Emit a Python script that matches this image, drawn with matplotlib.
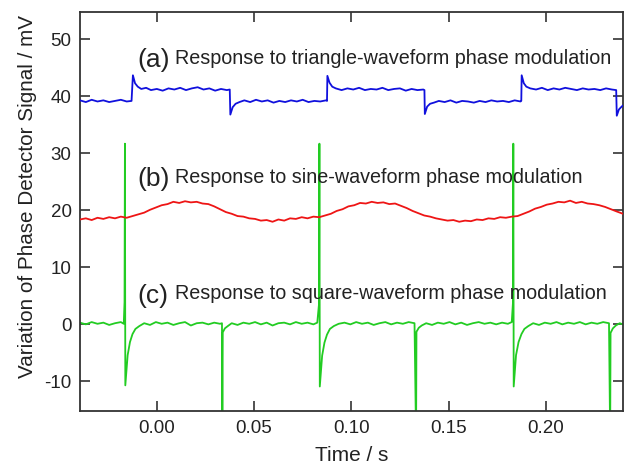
import matplotlib
matplotlib.use("Agg")
import matplotlib.pyplot as plt

plt.rcParams['font.family'] = ['Liberation Sans', 'DejaVu Sans']
plt.rcParams['axes.unicode_minus'] = False

# ---- data ----
blue_t = [-0.0395, -0.0365, -0.0335, -0.0305, -0.0275, -0.0245, -0.0215, -0.0185, -0.0155, -0.0130,
          -0.0123, -0.0112, -0.0098, -0.0080, -0.0055, -0.0030, 0.0000, 0.0030, 0.0060, 0.0090,
          0.0120, 0.0150, 0.0180, 0.0210, 0.0240, 0.0270, 0.0300, 0.0330, 0.0360, 0.0375,
          0.0378, 0.0390, 0.0405, 0.0425, 0.0450, 0.0480, 0.0510, 0.0540, 0.0570, 0.0600,
          0.0630, 0.0660, 0.0690, 0.0720, 0.0750, 0.0780, 0.0810, 0.0840, 0.0870, 0.0875,
          0.0877, 0.0888, 0.0902, 0.0920, 0.0950, 0.0980, 0.1010, 0.1040, 0.1070, 0.1100,
          0.1130, 0.1160, 0.1190, 0.1220, 0.1250, 0.1280, 0.1310, 0.1340, 0.1370, 0.1376,
          0.1378, 0.1390, 0.1405, 0.1425, 0.1450, 0.1480, 0.1510, 0.1540, 0.1570, 0.1600,
          0.1630, 0.1660, 0.1690, 0.1720, 0.1750, 0.1780, 0.1810, 0.1840, 0.1870, 0.1874,
          0.1876, 0.1887, 0.1900, 0.1920, 0.1950, 0.1980, 0.2010, 0.2040, 0.2070, 0.2100,
          0.2130, 0.2160, 0.2190, 0.2220, 0.2250, 0.2280, 0.2310, 0.2340, 0.2362, 0.2365,
          0.2376, 0.2390, 0.2397]
blue_v = [39.2, 38.9, 39.3, 39.0, 39.2, 38.9, 39.1, 39.3, 39.0, 39.1,
          43.6, 42.2, 41.6, 41.2, 41.4, 41.0, 41.2, 40.9, 41.3, 41.1,
          41.4, 41.0, 41.3, 41.5, 41.1, 41.3, 40.9, 41.2, 41.0, 41.1,
          36.7, 38.0, 38.6, 38.9, 39.2, 38.9, 39.3, 39.0, 39.2, 38.8,
          39.1, 38.9, 39.2, 39.0, 39.3, 38.9, 39.1, 39.0, 39.2, 39.1,
          43.5, 42.3, 41.6, 41.3, 41.0, 41.3, 41.1, 41.4, 41.0, 41.2,
          41.1, 41.4, 41.0, 41.2, 41.3, 40.9, 41.2, 41.0, 41.1, 41.0,
          36.8, 38.1, 38.6, 38.8, 39.1, 38.9, 39.2, 38.8, 39.1, 39.0,
          38.8, 39.1, 38.9, 39.2, 39.0, 39.1, 38.9, 39.2, 39.0, 39.1,
          43.6, 42.2, 41.6, 41.3, 41.1, 41.4, 41.0, 41.3, 41.1, 41.4,
          41.2, 41.0, 41.3, 41.1, 41.2, 41.0, 41.3, 41.1, 41.0, 36.5,
          37.6, 38.1, 38.3]

red_t = [-0.0395, -0.0365, -0.0335, -0.0305, -0.0275, -0.0245, -0.0215, -0.0185, -0.0155, -0.0125,
         -0.0095, -0.0065, -0.0035, -0.0005, 0.0025, 0.0055, 0.0085, 0.0115, 0.0145, 0.0175,
         0.0205, 0.0235, 0.0265, 0.0295, 0.0325, 0.0355, 0.0385, 0.0415, 0.0445, 0.0475,
         0.0505, 0.0535, 0.0565, 0.0595, 0.0625, 0.0655, 0.0685, 0.0715, 0.0745, 0.0775,
         0.0805, 0.0835, 0.0865, 0.0895, 0.0925, 0.0955, 0.0985, 0.1015, 0.1045, 0.1075,
         0.1105, 0.1135, 0.1165, 0.1195, 0.1225, 0.1255, 0.1285, 0.1315, 0.1345, 0.1375,
         0.1405, 0.1435, 0.1465, 0.1495, 0.1525, 0.1555, 0.1585, 0.1615, 0.1645, 0.1675,
         0.1705, 0.1735, 0.1765, 0.1795, 0.1825, 0.1855, 0.1885, 0.1915, 0.1945, 0.1975,
         0.2005, 0.2035, 0.2065, 0.2095, 0.2125, 0.2155, 0.2185, 0.2215, 0.2245, 0.2275,
         0.2305, 0.2335, 0.2365, 0.2397]
red_v = [18.3, 18.5, 18.2, 18.6, 18.4, 18.7, 18.5, 18.8, 18.6, 18.9,
         19.2, 19.5, 20.0, 20.4, 20.8, 21.0, 21.4, 21.2, 21.5, 21.3,
         21.4, 21.1, 21.0, 20.6, 20.1, 19.6, 19.3, 18.9, 18.8, 18.5,
         18.4, 18.1, 18.2, 17.9, 18.3, 18.1, 18.5, 18.4, 18.7, 18.5,
         18.8, 18.7, 19.0, 19.3, 19.8, 20.1, 20.6, 20.8, 21.2, 21.1,
         21.4, 21.2, 21.3, 21.0, 21.1, 20.7, 20.3, 19.8, 19.4, 19.0,
         18.8, 18.5, 18.3, 18.1, 18.2, 17.9, 18.1, 18.0, 18.3, 18.2,
         18.5, 18.4, 18.7, 18.6, 18.8, 18.9, 19.3, 19.7, 20.2, 20.5,
         20.9, 21.1, 21.4, 21.3, 21.6, 21.2, 21.4, 21.1, 21.0, 20.8,
         20.5, 20.1, 19.7, 19.3]

green_t = [-0.0395, -0.0365, -0.0335, -0.0305, -0.0275, -0.0245, -0.0215, -0.0185, -0.0170, -0.0166,
           -0.0164, -0.0162, -0.0150, -0.0138, -0.0125, -0.0110, -0.0090, -0.0065, -0.0035, -0.0005,
           0.0025, 0.0055, 0.0085, 0.0115, 0.0145, 0.0175, 0.0205, 0.0235, 0.0265, 0.0295,
           0.0325, 0.0335, 0.0337, 0.0339, 0.0350, 0.0365, 0.0385, 0.0415, 0.0445, 0.0475,
           0.0505, 0.0535, 0.0565, 0.0595, 0.0625, 0.0655, 0.0685, 0.0715, 0.0745, 0.0775,
           0.0805, 0.0825, 0.0834, 0.0836, 0.0838, 0.0850, 0.0862, 0.0875, 0.0890, 0.0910,
           0.0935, 0.0965, 0.0995, 0.1025, 0.1055, 0.1085, 0.1115, 0.1145, 0.1175, 0.1205,
           0.1235, 0.1265, 0.1295, 0.1325, 0.1333, 0.1335, 0.1347, 0.1362, 0.1385, 0.1415,
           0.1445, 0.1475, 0.1505, 0.1535, 0.1565, 0.1595, 0.1625, 0.1655, 0.1685, 0.1715,
           0.1745, 0.1775, 0.1805, 0.1825, 0.1831, 0.1833, 0.1835, 0.1847, 0.1860, 0.1875,
           0.1890, 0.1910, 0.1935, 0.1965, 0.1995, 0.2025, 0.2055, 0.2085, 0.2115, 0.2145,
           0.2175, 0.2205, 0.2235, 0.2265, 0.2295, 0.2325, 0.2331, 0.2333, 0.2345, 0.2360,
           0.2380, 0.2397]
green_v = [0.2, -0.1, 0.3, 0.0, 0.2, -0.2, 0.1, 0.3, 0.0, 3.8,
           31.6, -10.8, -5.5, -3.2, -1.8, -0.9, -0.4, 0.1, -0.2, 0.3,
           0.0, 0.2, -0.2, 0.1, 0.3, -0.3, 0.1, 0.2, -0.1, 0.2,
           0.0, 0.1, -20.0, -1.5, -0.8, -0.4, 0.1, -0.2, 0.2, 0.0,
           0.3, -0.1, 0.2, -0.3, 0.1, 0.2, -0.1, 0.3, 0.0, 0.2,
           -0.1, 0.2, 3.5, 31.6, -11.0, -5.6, -3.3, -1.9, -0.9, -0.4,
           0.0, 0.2, -0.1, 0.3, 0.0, 0.2, -0.2, 0.1, 0.3, -0.1,
           0.2, 0.0, 0.3, 0.1, -20.0, -1.4, -0.7, -0.3, 0.1, -0.2,
           0.2, 0.0, 0.3, -0.1, 0.2, -0.2, 0.1, 0.3, 0.0, 0.2,
           -0.1, 0.2, 0.0, 0.3, 3.6, 31.6, -11.0, -5.5, -3.2, -1.8,
           -0.9, -0.4, 0.1, -0.2, 0.2, 0.0, 0.3, -0.1, 0.2, 0.0,
           0.3, -0.1, 0.2, 0.0, 0.3, 0.1, -20.0, -1.6, -0.8, -0.3,
           0.1, -0.1]

x_ticks = [0.00, 0.05, 0.10, 0.15, 0.20]
x_ticklabels = ['0.00', '0.05', '0.10', '0.15', '0.20']
y_ticks = [-10, 0, 10, 20, 30, 40, 50]
panel_tags = ['(a)', '(b)', '(c)']
panel_texts = ['Response to triangle-waveform phase modulation',
               'Response to sine-waveform phase modulation',
               'Response to square-waveform phase modulation']
panel_baselines = [45.8, 24.9, 4.5]

# ---- figure ----
fig = plt.figure(figsize=(6.28, 4.64), dpi=100)
ax = fig.add_axes([80/628, 1-412/464, 543/628, 399/464])

ax.plot(green_t, green_v, color='#22cc22', lw=1.3, zorder=2)
ax.plot(red_t, red_v, color='#ee1515', lw=1.3, zorder=3)
ax.plot(blue_t, blue_v, color='#1010dd', lw=1.3, zorder=3)

ax.set_xlim(-0.0395, 0.2397)
ax.set_ylim(-15.3, 54.7)
ax.set_xticks(x_ticks)
ax.set_xticklabels(x_ticklabels)
ax.set_yticks(y_ticks)

txtc = '#222222'
for s in ax.spines.values():
    s.set_color('#333333')
    s.set_linewidth(1.3)
ax.tick_params(direction='in', length=7, width=1.2, color='#333333',
               top=True, right=True, labelsize=13.5, labelcolor=txtc)
ax.tick_params(axis='y', pad=6)
ax.tick_params(axis='x', pad=6)

ax.set_xlabel('Time / s', fontsize=15, color=txtc, labelpad=6)
ax.set_ylabel('Variation of Phase Detector Signal / mV', fontsize=14.9, color=txtc)
ax.yaxis.set_label_coords(-0.079, 0.539)

for tag, txt, yb in zip(panel_tags, panel_texts, panel_baselines):
    ax.text(-0.0098, yb - 0.6, tag, fontsize=19, color=txtc, va='baseline', ha='left')
    ax.text(0.0094, yb, txt, fontsize=14.25, color=txtc, va='baseline', ha='left')

fig.savefig('out.png', dpi=100)
